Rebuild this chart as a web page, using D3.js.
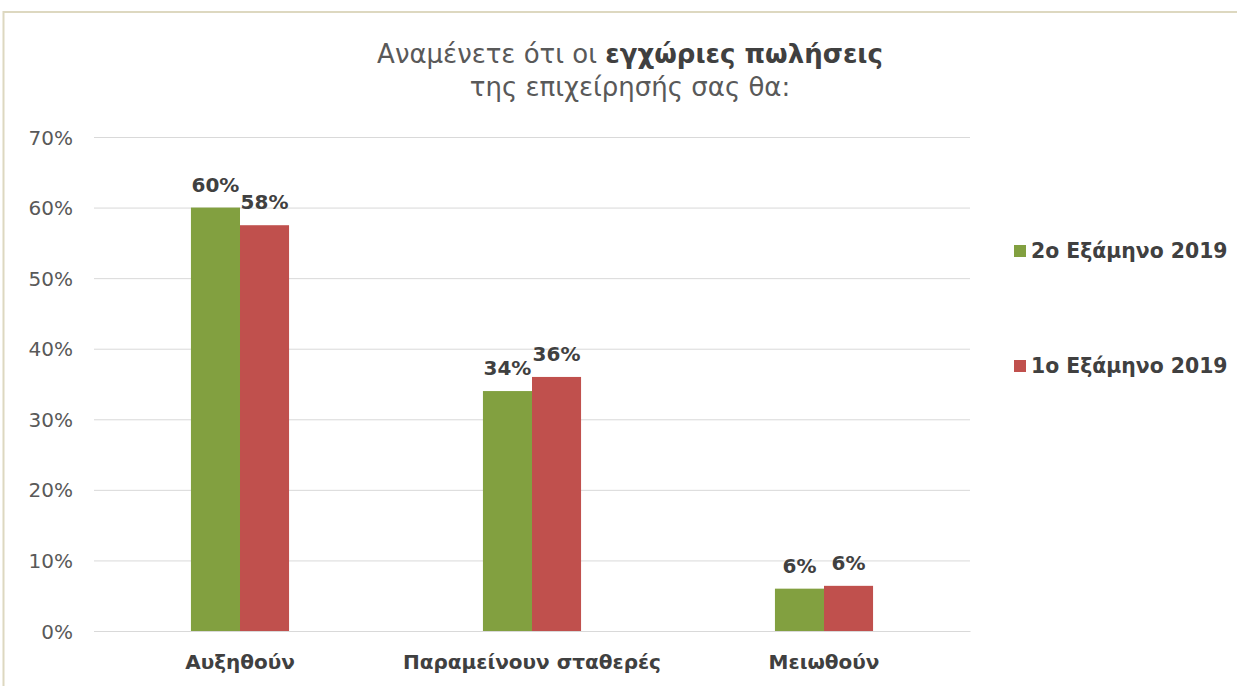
<!DOCTYPE html>
<html>
<head>
<meta charset="utf-8">
<script src="https://cdn.jsdelivr.net/npm/d3@7"></script>
<style>
  body { margin: 0; background: #fff; }
  svg { display: block; font-family: "DejaVu Sans", "Noto Sans", sans-serif; }
</style>
</head>
<body>
<div id="chart"></div>
<script>
// chart data
var categories = ["Αυξηθούν", "Παραμείνουν σταθερές", "Μειωθούν"];
var seriesNames = ["2ο Εξάμηνο 2019", "1ο Εξάμηνο 2019"];
var seriesColors = ["#82a040", "#c0504d"];
var h2Values = [60, 34, 6];     // 2ο Εξάμηνο 2019
var h1Values = [57.5, 36, 6.4]; // 1ο Εξάμηνο 2019
var h1Labels = ["58%", "36%", "6%"];
var h2Labels = ["60%", "34%", "6%"];
var yTicks = [0, 10, 20, 30, 40, 50, 60, 70];

var W = 1237, H = 686;
var margin = {top: 137, right: 267, bottom: 55, left: 94};
var width = W - margin.left - margin.right;
var height = H - margin.top - margin.bottom;

var svg = d3.select("#chart").append("svg")
    .attr("width", W)
    .attr("height", H);

svg.append("rect").attr("width", W).attr("height", H).attr("fill", "#fff");

// frame (left + top edges only visible)
svg.append("path")
    .attr("d", "M3.5," + H + "V12H" + W)
    .attr("fill", "none")
    .attr("stroke", "#ddd8c0")
    .attr("stroke-width", 2);

// title
var title = svg.append("text")
    .attr("x", 630)
    .attr("y", 63)
    .attr("text-anchor", "middle")
    .attr("fill", "#595959")
    .style("font-size", "26px");
title.append("tspan").text("Αναμένετε ότι οι ");
title.append("tspan").attr("font-weight", "bold").attr("fill", "#404040").text("εγχώριες πωλήσεις");
svg.append("text")
    .attr("x", 630)
    .attr("y", 96)
    .attr("text-anchor", "middle")
    .attr("fill", "#595959")
    .style("font-size", "26px")
    .text("της επιχείρησής σας θα:");

var g = svg.append("g")
    .attr("transform", "translate(" + margin.left + "," + margin.top + ")");

var x = d3.scaleBand()
    .domain(categories)
    .range([0, width])
    .paddingInner(0.664)
    .paddingOuter(0.332);

var x1 = d3.scaleBand()
    .domain(seriesNames)
    .range([0, x.bandwidth()]);

var y = d3.scaleLinear()
    .domain([0, 70])
    .range([height, 0]);

// grid lines
g.append("g")
    .attr("class", "grid")
    .call(d3.axisLeft(y).tickValues(yTicks).tickSize(-width).tickFormat(""))
    .call(function(s) {
      s.select(".domain").remove();
      s.selectAll("line").attr("stroke", "#d9d9d9");
    });

// y axis labels
g.append("g")
    .call(d3.axisLeft(y).tickValues(yTicks).tickSize(0).tickPadding(21).tickFormat(function(d) { return d + "%"; }))
    .call(function(s) {
      s.select(".domain").remove();
      s.selectAll("text")
          .attr("fill", "#595959")
          .style("font-size", "20px")
          .style("font-family", "'DejaVu Sans', sans-serif")
          .attr("dy", "0.35em");
    });

// x axis
g.append("g")
    .attr("transform", "translate(0," + height + ")")
    .call(d3.axisBottom(x).tickSize(0).tickPadding(24))
    .call(function(s) {
      s.select(".domain").attr("stroke", "#d9d9d9");
      s.selectAll("text")
          .attr("fill", "#404040")
          .attr("font-weight", "bold")
          .style("font-size", "20px")
          .style("font-family", "'DejaVu Sans', sans-serif");
    });

var rows = categories.map(function(c, i) {
  return {
    cat: c,
    vals: [
      {s: seriesNames[0], v: h2Values[i], label: h2Labels[i]},
      {s: seriesNames[1], v: h1Values[i], label: h1Labels[i]}
    ]
  };
});

var groups = g.selectAll(".grp")
    .data(rows)
  .enter().append("g")
    .attr("class", "grp")
    .attr("transform", function(d) { return "translate(" + x(d.cat) + ",0)"; });

groups.selectAll("rect")
    .data(function(d) { return d.vals; })
  .enter().append("rect")
    .attr("x", function(d) { return x1(d.s); })
    .attr("y", function(d) { return y(d.v); })
    .attr("width", x1.bandwidth())
    .attr("height", function(d) { return height - y(d.v); })
    .attr("fill", function(d, i) { return seriesColors[i]; });

groups.selectAll(".lbl")
    .data(function(d) { return d.vals; })
  .enter().append("text")
    .attr("class", "lbl")
    .attr("x", function(d) { return x1(d.s) + x1.bandwidth() / 2; })
    .attr("y", function(d) { return y(d.v) - 16; })
    .attr("text-anchor", "middle")
    .attr("fill", "#404040")
    .attr("font-weight", "bold")
    .style("font-size", "20px")
    .text(function(d) { return d.label; });

// legend
var legend = svg.append("g")
    .attr("transform", "translate(1014,0)");

var li = legend.selectAll(".li")
    .data(seriesNames)
  .enter().append("g")
    .attr("class", "li")
    .attr("transform", function(d, i) { return "translate(0," + (251 + i * 115) + ")"; });

li.append("rect")
    .attr("x", 0)
    .attr("y", -6)
    .attr("width", 12)
    .attr("height", 12)
    .attr("fill", function(d, i) { return seriesColors[i]; });

li.append("text")
    .attr("x", 17)
    .attr("y", 0)
    .attr("dy", "0.35em")
    .attr("fill", "#404040")
    .attr("font-weight", "bold")
    .style("font-size", "20.4px")
    .text(function(d) { return d; });
</script>
</body>
</html>
